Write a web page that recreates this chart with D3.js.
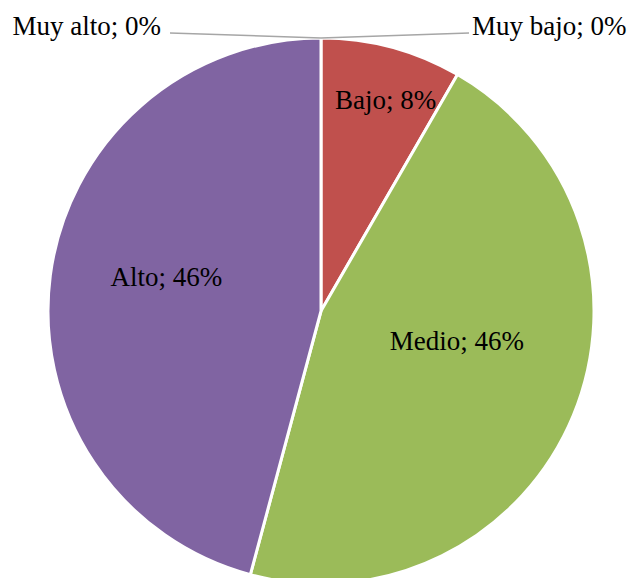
<!DOCTYPE html>
<html><head><meta charset="utf-8">
<script src="https://cdn.jsdelivr.net/npm/d3@7"></script>
<style>body{margin:0;background:#fff}svg{display:block}</style>
</head><body>
<script>
const categories = ["Muy bajo", "Bajo", "Medio", "Alto", "Muy alto"];
const values = [0, 2, 11, 11, 0];
const percentLabels = ["0%", "8%", "46%", "46%", "0%"];
const colors = ["#4F81BD", "#C0504D", "#9BBB59", "#8064A2", "#4BACC6"];

const W = 635, H = 578;
const cx = 321, cy = 311, R = 273;
const svg = d3.select("body").append("svg").attr("width", W).attr("height", H);
const g = svg.append("g").attr("transform", `translate(${cx},${cy})`);

const data = categories.map((c, i) => ({cat: c, value: values[i], label: c + "; " + percentLabels[i], color: colors[i]}));
const pie = d3.pie().sort(null).value(d => d.value);
const arcs = pie(data);
const arc = d3.arc().innerRadius(0).outerRadius(R);

g.selectAll("path.slice").data(arcs.filter(a => a.data.value > 0)).enter().append("path")
  .attr("d", arc).attr("fill", d => d.data.color)
  .attr("stroke", "#fff").attr("stroke-width", 3).attr("stroke-linejoin", "miter");

// label placement (radius fraction, angle shift in degrees)
const place = {"Bajo": [0.81, 2], "Medio": [0.51, -10], "Alto": [0.58, 5]};
const font = "'Liberation Serif', 'Times New Roman', serif";
const fs = 27;
arcs.forEach(a => {
  const mid = (a.startAngle + a.endAngle) / 2;
  if (a.data.value > 0) {
    const p = place[a.data.cat];
    const ang = mid + p[1] * Math.PI / 180;
    const r = R * p[0];
    g.append("text").attr("x", r * Math.sin(ang)).attr("y", -r * Math.cos(ang))
      .attr("text-anchor", "middle").attr("dominant-baseline", "central")
      .attr("font-family", font).attr("font-size", fs).attr("fill", "#000")
      .text(a.data.label);
  } else {
    const px = R * Math.sin(mid), py = -R * Math.cos(mid);
    const right = a.index === 0;
    const ex = right ? 148 : -151, ey = py - 5;
    g.append("path").attr("d", `M${px},${py}L${ex},${ey}`)
      .attr("stroke", "#A6A6A6").attr("stroke-width", 1.5).attr("fill", "none");
    g.append("text").attr("x", right ? ex + 3 : ex - 9).attr("y", ey + 2)
      .attr("text-anchor", right ? "start" : "end")
      .attr("font-family", font).attr("font-size", fs).attr("fill", "#000")
      .text(a.data.label);
  }
});
</script>
</body></html>
